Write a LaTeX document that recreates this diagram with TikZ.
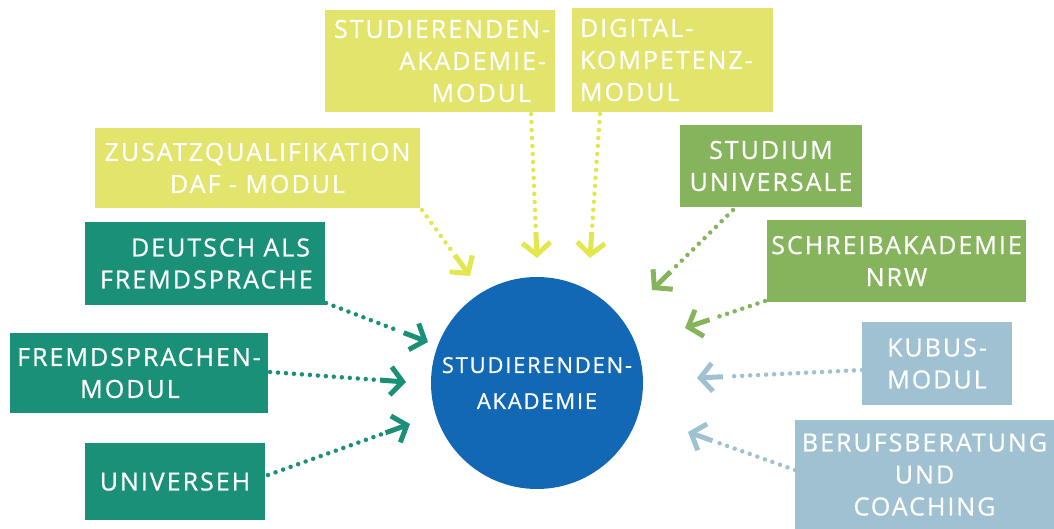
\documentclass[tikz,border=0pt]{standalone}
\usepackage{fontspec}
\usetikzlibrary{arrows.meta,calc}
\newfontfamily\boxfont[LetterSpace=8,FakeBold=0.7]{Open Sans}
\definecolor{cyel}{HTML}{E2E46C}
\definecolor{cyelarr}{HTML}{E4E650}
\definecolor{cteal}{HTML}{1B9078}
\definecolor{cgreen}{HTML}{86B45C}
\definecolor{clblue}{HTML}{A0C1D2}
\definecolor{cblue}{HTML}{1268B4}
\tikzset{
  box/.style={draw=none, minimum width=#1, inner sep=0pt, text=white,
    font=\boxfont\fontsize{25}{32}\selectfont},
  dotline/.style={line width=4.5pt, line cap=round, dash pattern=on 0pt off 8pt},
  stem/.style={line width=5pt, -{Straight Barb[length=12pt,width=28pt,line width=5pt]}},
}
\newcommand\conn[3]{%
  \draw[dotline,#3] (#1) -- ($(#2)!30pt!(#1)$);
  \draw[stem,#3] ($(#2)!26pt!(#1)$) -- (#2);}
\begin{document}
\begin{tikzpicture}[x=1pt,y=-1pt]
\useasboundingbox (0,0) rectangle (1054,529);
% boxes
\node[box=230pt, minimum height=102pt, fill=cyel, align=right, text width=212pt] (sam) at (440,61) {\mbox{STUDIERENDEN-}\\\mbox{AKADEMIE-}\\MODUL\hspace*{15pt}};
\node[box=201pt, minimum height=104pt, fill=cyel, align=left, text width=185pt] (dig) at (672.5,60) {DIGITAL-\\KOMPETENZ-\\MODUL};
\node[box=325pt, minimum height=80pt, fill=cyel, align=center] (daf) at (257.5,168) {ZUSATZQUALIFIKATION\\DAF - MODUL};
\node[box=240pt, minimum height=83pt, fill=cteal, align=right, text width=210pt] (dt) at (205,263.5) {DEUTSCH ALS\\FREMDSPRACHE};
\node[box=258pt, minimum height=80pt, fill=cteal, align=center] (fs) at (139,373) {FREMDSPRACHEN-\\MODUL\hspace*{18pt}};
\node[box=180pt, minimum height=77pt, fill=cteal, align=center] (ueh) at (175,481.5) {UNIVERSEH};
\node[box=182pt, minimum height=82pt, fill=cgreen, align=center] (su) at (771,166) {STUDIUM\\UNIVERSALE};
\node[box=259pt, minimum height=82pt, fill=cgreen, align=center] (sa) at (896.5,261) {SCHREIBAKADEMIE\\NRW};
\node[box=150pt, minimum height=83pt, fill=clblue, align=center] (kb) at (937,363.5) {KUBUS-\\MODUL};
\node[box=259pt, minimum height=109pt, fill=clblue, align=center] (bb) at (924.5,474.5) {BERUFSBERATUNG\\UND\\COACHING};
% centre
\node[circle, fill=cblue, minimum size=212pt, inner sep=0pt, text=white, align=center,
  font=\boxfont\fontsize{22}{36}\selectfont] (c) at (537,383) {STUDIERENDEN-\\AKADEMIE};
% connector ends
\coordinate (s1) at (422,210); \coordinate (e1) at (470,276);
\coordinate (s2) at (531,114); \coordinate (e2) at (537,258);
\coordinate (s3) at (600,114); \coordinate (e3) at (590,258);
\coordinate (s4) at (326,303); \coordinate (e4) at (428,342);
\coordinate (s5) at (270,372); \coordinate (e5) at (406,382);
\coordinate (s6) at (268,475); \coordinate (e6) at (410,424);
\coordinate (s7) at (733,210); \coordinate (e7) at (652,290);
\coordinate (s8) at (765,301); \coordinate (e8) at (685,328);
\coordinate (s9) at (862,370); \coordinate (e9) at (697,378);
\coordinate (s10) at (795,470); \coordinate (e10) at (688,432);
\conn{s1}{e1}{cyelarr}
\conn{s2}{e2}{cyelarr}
\conn{s3}{e3}{cyelarr}
\conn{s4}{e4}{cteal}
\conn{s5}{e5}{cteal}
\conn{s6}{e6}{cteal}
\conn{s7}{e7}{cgreen}
\conn{s8}{e8}{cgreen}
\conn{s9}{e9}{clblue}
\conn{s10}{e10}{clblue}
\end{tikzpicture}
\end{document}
